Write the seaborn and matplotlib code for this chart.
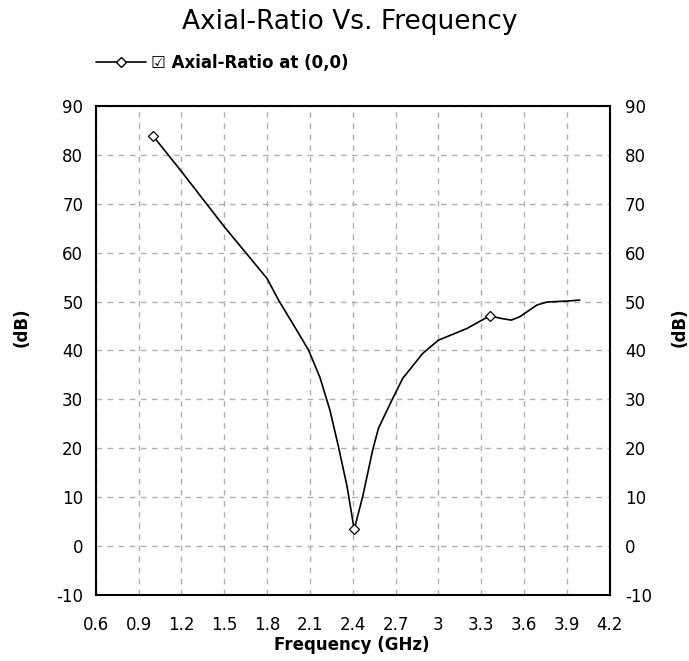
import numpy as np
import pandas as pd
import matplotlib
matplotlib.use("Agg")
import matplotlib.pyplot as plt
import seaborn as sns
from matplotlib.lines import Line2D

# Values
freq_ghz = [1.0, 1.2, 1.5, 1.8, 1.88, 2.0, 2.09, 2.17, 2.24, 2.3, 2.36, 2.41,
            2.47, 2.54, 2.58, 2.68, 2.75, 2.89, 3.0, 3.2, 3.36, 3.43, 3.51,
            3.57, 3.69, 3.76, 3.9, 3.99]
axial_ratio_db = [83.9, 76.6, 65.3, 54.7, 50.3, 44.5, 40.1, 34.5, 27.8, 20.3, 12.2, 3.4,
                  10.2, 19.7, 24.1, 30.2, 34.3, 39.4, 42.1, 44.5, 47.1, 46.6, 46.2,
                  46.9, 49.3, 49.9, 50.1, 50.3]
marker_freqs = [1.0, 2.41, 3.36]

x_ticks = [0.6, 0.9, 1.2, 1.5, 1.8, 2.1, 2.4, 2.7, 3.0, 3.3, 3.6, 3.9, 4.2]
x_tick_labels = ["0.6", "0.9", "1.2", "1.5", "1.8", "2.1", "2.4", "2.7", "3", "3.3", "3.6", "3.9", "4.2"]
y_ticks = list(range(-10, 91, 10))

df = pd.DataFrame({"freq": freq_ghz, "ar": axial_ratio_db})
mark_idx = [int(np.argmin(np.abs(df["freq"].values - f))) for f in marker_freqs]

sns.set_style("white")
plt.rcParams["font.family"] = ["DejaVu Sans"]
plt.rcParams["axes.unicode_minus"] = False
plt.rcParams["text.color"] = "black"
plt.rcParams["axes.labelcolor"] = "black"
plt.rcParams["xtick.color"] = "black"
plt.rcParams["ytick.color"] = "black"

fig = plt.figure(figsize=(6.89, 6.61), dpi=100)
ax = fig.add_axes([0.139, 0.0998, 0.746, 0.740])

sns.lineplot(data=df, x="freq", y="ar", ax=ax, color="black", lw=1.2,
             marker="D", markersize=5, markerfacecolor="white",
             markeredgecolor="black", markeredgewidth=0.9, markevery=mark_idx)

ax.set_xlim(0.6, 4.2)
ax.set_ylim(-10, 90)
ax.set_xticks(x_ticks)
ax.set_xticklabels(x_tick_labels)
ax.set_yticks(y_ticks)
ax.grid(True, color="#b0b0b0", linestyle=(0, (4, 4)), lw=1)
ax.tick_params(axis="x", length=0, labelsize=12, pad=15)
ax.tick_params(axis="y", length=0, labelsize=12, pad=9)
for s in ax.spines.values():
    s.set_visible(True)
    s.set_color("black")
    s.set_linewidth(1.5)

ax.set_xlabel("Frequency (GHz)", fontsize=12, fontweight="bold")
ax.xaxis.set_label_coords(0.498, -0.102)
ax.xaxis.label.set_va("center")
ax.set_ylabel("(dB)", fontsize=12, fontweight="bold")
ax.yaxis.set_label_coords(-0.144, 0.548)
ax.yaxis.label.set_va("center")

# right side copy of the dB axis
ax2 = ax.twinx()
ax2.set_ylim(ax.get_ylim())
ax2.set_yticks(y_ticks)
ax2.tick_params(axis="y", length=0, labelsize=12, pad=11)
ax2.set_ylabel("(dB)", fontsize=12, fontweight="bold", rotation=90)
ax2.yaxis.set_label_coords(1.136, 0.548)
ax2.yaxis.label.set_va("center")
for s in ax2.spines.values():
    s.set_visible(False)

fig.text(0.508, 0.967, "Axial-Ratio Vs. Frequency", ha="center", va="center", fontsize=19)

handle = Line2D([], [], color="black", lw=1.2, marker="D", markersize=5,
                markerfacecolor="white", markeredgecolor="black")
leg = ax.legend([handle], ["\u2611 Axial-Ratio at (0,0)"], loc="center left",
                bbox_to_anchor=(0.0, 1.088), frameon=False, handlelength=3.0,
                handletextpad=0.3, borderaxespad=0, borderpad=0,
                prop={"weight": "bold", "size": 12})

fig.savefig("out.png", dpi=100, facecolor="white")
